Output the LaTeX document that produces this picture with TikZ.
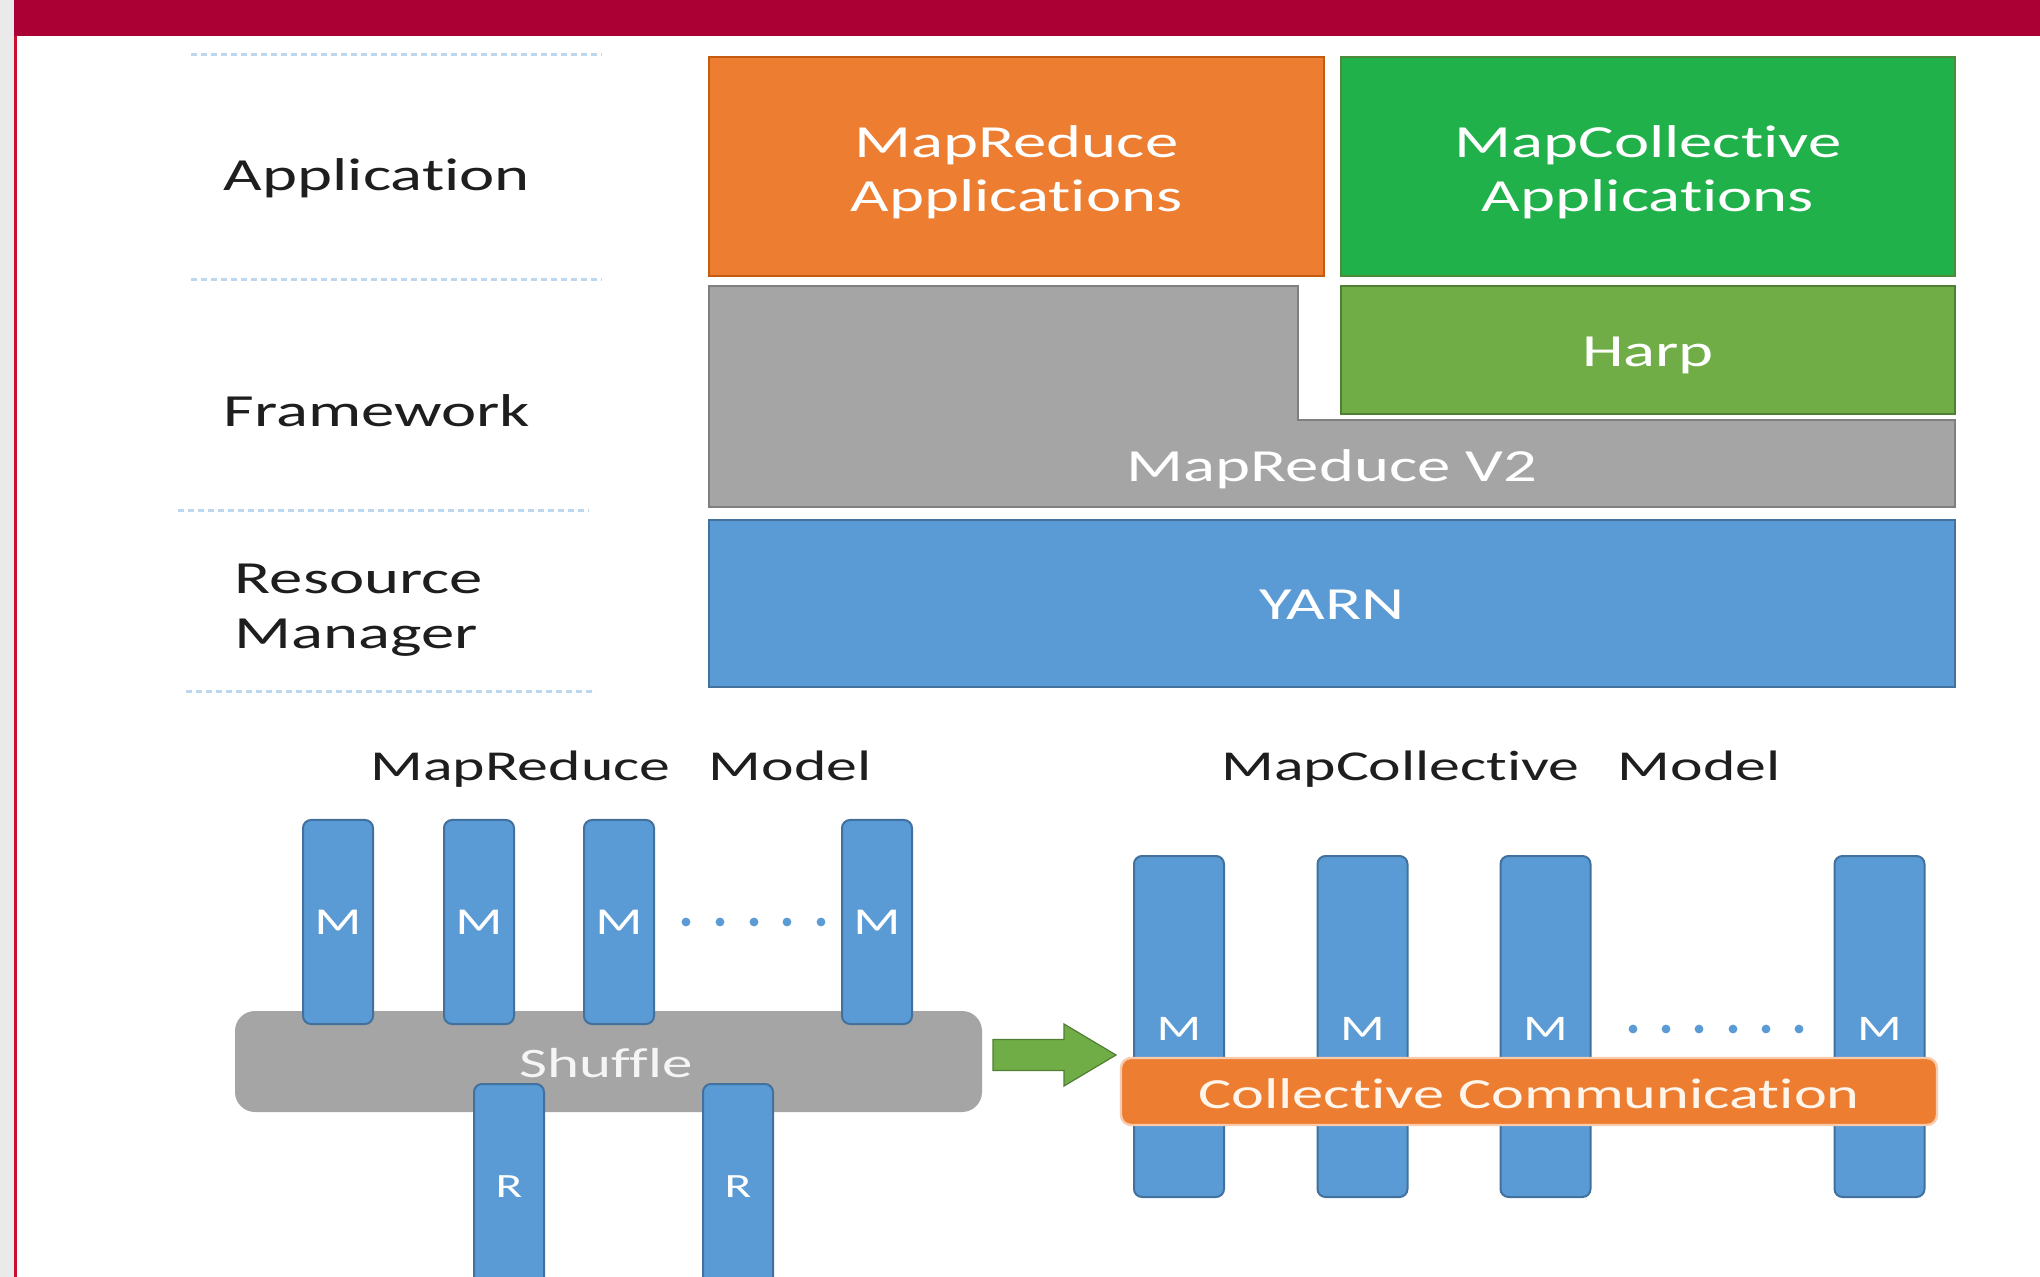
\documentclass[tikz,border=0pt]{standalone}
\usepackage{fontspec}
\setmainfont{Carlito}[FakeStretch=1.45,Ligatures=NoCommon]
\usetikzlibrary{calc}
\definecolor{stripgray}{HTML}{EAEAEA}
\definecolor{redline}{HTML}{C8102E}
\definecolor{barred}{HTML}{AA0033}
\definecolor{dotblue}{HTML}{BDD7EE}
\definecolor{orgfill}{HTML}{ED7D31}
\definecolor{orgdraw}{HTML}{C55A11}
\definecolor{grnfill}{HTML}{21B14B}
\definecolor{grndraw}{HTML}{4E8A3A}
\definecolor{harpfill}{HTML}{70AD47}
\definecolor{harpdraw}{HTML}{507E32}
\definecolor{gryfill}{HTML}{A5A5A5}
\definecolor{grydraw}{HTML}{7F7F7F}
\definecolor{blufill}{HTML}{5B9BD5}
\definecolor{bludraw}{HTML}{41719C}
\definecolor{txtdark}{HTML}{1E1E1E}
\definecolor{collline}{HTML}{F8CBAD}
\begin{document}
\begin{tikzpicture}[x=0.5pt,y=-0.5pt,
  sep/.style={draw=dotblue,line width=1.5pt,dash pattern=on 3pt off 2pt},
  lbl/.style={text=txtdark,font=\fontsize{23}{27.5}\selectfont,inner sep=0pt},
  layer/.style={rectangle,inner sep=0pt,text=white,align=center,font=\fontsize{23}{27}\selectfont,line width=1pt},
  ttl/.style={text=txtdark,font=\fontsize{21.3}{25}\selectfont,inner sep=0pt},
  mbar/.style={rectangle,rounded corners=4pt,fill=blufill,draw=bludraw,line width=1pt,text=white,inner sep=0pt},
  ddot/.style={fill=blufill}
]
\useasboundingbox (0,0) rectangle (2040,1277);
\clip (0,0) rectangle (2040,1277);
\fill[white] (0,0) rectangle (2040,1277);
\fill[stripgray] (0,0) rectangle (14,1277);
\fill[redline] (14,0) rectangle (17,1277);
\fill[barred] (14,0) rectangle (2040,36);

% left separators
\draw[sep] (191,55) -- (602,55);
\draw[sep] (191,280) -- (602,280);
\draw[sep] (178,511) -- (589,511);
\draw[sep] (186,692) -- (596,692);

% left labels
\node[lbl] (lapp) at (377,178) {Application};
\node[lbl] (lfw) at (377,411) {Framework};
\node[lbl,align=left] (lrm) at (359,610) {Resource\\Manager};

% stack
\node[layer,fill=orgfill,draw=orgdraw,minimum width=307.5pt,minimum height=109.5pt,text depth=0pt] (mrapp) at (1016.5,166.5) {};
\node[layer] (mrappt) at (1016.5,172) {MapReduce\\Applications};
\node[layer,fill=grnfill,draw=grndraw,minimum width=307pt,minimum height=109.5pt] (mcapp) at (1648,166.5) {};
\node[layer] (mcappt) at (1648,172) {MapCollective\\Applications};
\node[layer,fill=harpfill,draw=harpdraw,minimum width=307pt,minimum height=64pt] (harp) at (1648,350) {};
\node[layer] (harpt) at (1648,355) {Harp};
\filldraw[fill=gryfill,draw=grydraw,line width=1pt] (709,286) -- (1298,286) -- (1298,420) -- (1955,420) -- (1955,507) -- (709,507) -- cycle;
\node[layer] (mrv2) at (1332,469) {MapReduce V2};
\node[layer,fill=blufill,draw=bludraw,minimum width=623pt,minimum height=83.5pt] (yarn) at (1332,603.5) {};
\node[layer] (yarnt) at (1332,605) {YARN};

% MapReduce model
\node[ttl] (mrtitle) at (621,769) {MapReduce\hspace{0.9em}Model};
\node[rectangle,rounded corners=10pt,fill=gryfill,inner sep=0pt,minimum width=373.5pt,minimum height=50.5pt] (shuffle) at (608.5,1061.5) {};
\node[text=white!92!gray,font=\fontsize{21}{25}\selectfont,inner sep=0pt] (shufflet) at (606,1063) {Shuffle};
\foreach \n/\x in {1/338,2/479,3/619,4/877}{
  \node[mbar,minimum width=35pt,minimum height=102pt,font=\fontsize{19}{23}\selectfont] (m\n) at (\x,922) {M};
}
\foreach \n/\x in {1/509,2/738}{
  \node[mbar,minimum width=35pt,minimum height=103pt,font=\fontsize{17}{21}\selectfont] (r\n) at (\x,1187) {R};
}
\foreach \x in {686,720,754,787,821}{\fill[ddot] (\x,922) circle[radius=2.2pt];}

% arrow
\coordinate (atail) at (993,1055);
\filldraw[fill=harpfill,draw=harpdraw,line width=0.6pt]
  ($(atail)+(0,-15.5)$) -- ($(atail)+(71,-15.5)$) -- ($(atail)+(71,-31)$) -- ($(atail)+(123,0)$)
  -- ($(atail)+(71,31)$) -- ($(atail)+(71,15.5)$) -- ($(atail)+(0,15.5)$) -- cycle;

% MapCollective model
\node[ttl] (mctitle) at (1501,769) {MapCollective\hspace{0.9em}Model};
\foreach \n/\x in {1/1179,2/1362.5,3/1545.5,4/1879.5}{
  \node[mbar,minimum width=45pt,minimum height=170.5pt,font=\fontsize{18}{22}\selectfont] (c\n) at (\x,1026.5) {};
  \node[text=white,font=\fontsize{18}{22}\selectfont,inner sep=0pt] (c\n t) at (\x,1029) {M};
}
\foreach \x in {1633,1666,1699,1733,1766,1799}{\fill[ddot] (\x,1029) circle[radius=2.2pt];}
\node[rectangle,rounded corners=5pt,fill=orgfill,draw=collline,line width=1.2pt,inner sep=0pt,minimum width=408pt,minimum height=33.5pt] (coll) at (1529,1091.5) {};
\node[text=white!92!orange,font=\fontsize{21.5}{25}\selectfont,inner sep=0pt] (collt) at (1529,1094) {Collective Communication};
\end{tikzpicture}
\end{document}
